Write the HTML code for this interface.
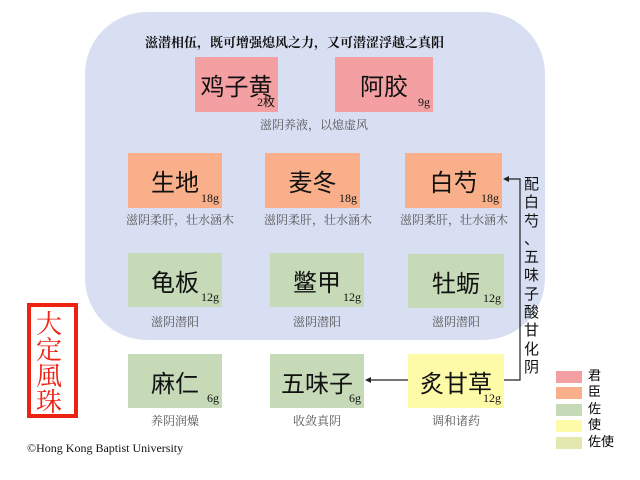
<!DOCTYPE html><html><head><meta charset="utf-8"><style>
body{margin:0;width:640px;height:480px;background:#fff;position:relative;overflow:hidden;font-family:"Liberation Serif","Noto Serif CJK SC",serif}
.a{position:absolute}
.bg{left:85px;top:12px;width:460px;height:328px;background:#d8dff2;border-radius:62px}
.b{position:absolute;font-size:24px;color:#111;display:flex;align-items:center;justify-content:center;font-family:"Liberation Sans","Noto Sans CJK SC",sans-serif}
.b i{position:absolute;right:3px;bottom:2px;font-style:normal;font-size:12px;font-family:"Liberation Serif",serif}
.p{background:#f4a0a2}.o{background:#f9b08a}.g{background:#c6dab8}.y{background:#fdfaa8}
.l{position:absolute;font-size:12px;color:#555;text-align:center;width:160px;font-family:"Liberation Serif","Noto Serif CJK SC",serif}
.t{font-size:14px;font-weight:bold;color:#111}
.sw{position:absolute;left:556px;width:26px;height:12px}
.lt{position:absolute;left:588px;font-size:13px;font-family:"Noto Sans CJK SC",sans-serif}
.v span{display:block;height:18.3px}
</style></head><body>
<div class="a bg"></div>
<div class="a t" style="left:145px;top:32px;font-family:'Noto Serif CJK SC',serif;font-size:13px">滋潜相伍，既可增强熄风之力，又可潜涩浮越之真阳</div>
<div class="b p" style="left:195px;top:57px;width:83px;height:55px">鸡子黄<i>2枚</i></div>
<div class="b p" style="left:335px;top:57px;width:98px;height:55px">阿胶<i>9g</i></div>
<div class="l" style="left:234px;top:116px">滋阴养液，以熄虚风</div>
<div class="b o" style="left:128px;top:153px;width:94px;height:55px">生地<i>18g</i></div>
<div class="b o" style="left:265px;top:153px;width:95px;height:55px">麦冬<i>18g</i></div>
<div class="b o" style="left:405px;top:153px;width:97px;height:55px">白芍<i>18g</i></div>
<div class="l" style="left:100px;top:211px">滋阴柔肝，壮水涵木</div>
<div class="l" style="left:238px;top:211px">滋阴柔肝，壮水涵木</div>
<div class="l" style="left:374px;top:211px">滋阴柔肝，壮水涵木</div>
<div class="b g" style="left:128px;top:253px;width:94px;height:54px">龟板<i>12g</i></div>
<div class="b g" style="left:270px;top:253px;width:94px;height:54px">鳖甲<i>12g</i></div>
<div class="b g" style="left:408px;top:254px;width:96px;height:54px">牡蛎<i>12g</i></div>
<div class="l" style="left:95px;top:313px">滋阴潜阳</div>
<div class="l" style="left:237px;top:313px">滋阴潜阳</div>
<div class="l" style="left:376px;top:313px">滋阴潜阳</div>
<div class="b g" style="left:128px;top:354px;width:94px;height:54px">麻仁<i>6g</i></div>
<div class="b g" style="left:270px;top:354px;width:94px;height:54px">五味子<i>6g</i></div>
<div class="b y" style="left:408px;top:354px;width:96px;height:54px">炙甘草<i>12g</i></div>
<div class="l" style="left:95px;top:412px">养阴润燥</div>
<div class="l" style="left:237px;top:412px">收敛真阴</div>
<div class="l" style="left:376px;top:412px">调和诸药</div>
<svg class="a" style="left:0;top:0" width="640" height="480">
<path d="M504 380H520V179H507" fill="none" stroke="#222" stroke-width="1.2"/>
<path d="M503 179l6-3v6z" fill="#222"/>
<path d="M408 380H369" stroke="#222" stroke-width="1.2"/>
<path d="M365 380l6-3v6z" fill="#222"/>
<rect x="29" y="305" width="47" height="111" fill="none" stroke="#e21" stroke-width="4"/>
</svg>
<div class="a v" style="left:524px;top:175px;width:16px;font-size:15px;line-height:18.3px;font-family:'Noto Sans CJK SC',sans-serif;color:#111"><span>配</span><span>白</span><span>芍</span><span>、</span><span>五</span><span>味</span><span>子</span><span>酸</span><span>甘</span><span>化</span><span>阴</span></div>
<div class="a" style="left:36px;top:310px;width:34px;font-size:26px;line-height:26px;color:#e21;font-family:'Noto Serif CJK SC',serif">大定風珠</div>
<div class="a" style="left:27px;top:441px;font-size:12px;color:#111">©Hong Kong Baptist University</div>
<div class="sw" style="top:371px;background:#f4a0a2"></div><div class="lt" style="top:365px">君</div>
<div class="sw" style="top:387px;background:#f9b08a"></div><div class="lt" style="top:381px">臣</div>
<div class="sw" style="top:404px;background:#c6dab8"></div><div class="lt" style="top:398px">佐</div>
<div class="sw" style="top:420px;background:#fdfaa8"></div><div class="lt" style="top:414px">使</div>
<div class="sw" style="top:437px;background:#e3e8b0"></div><div class="lt" style="top:431px">佐使</div>
</body></html>
